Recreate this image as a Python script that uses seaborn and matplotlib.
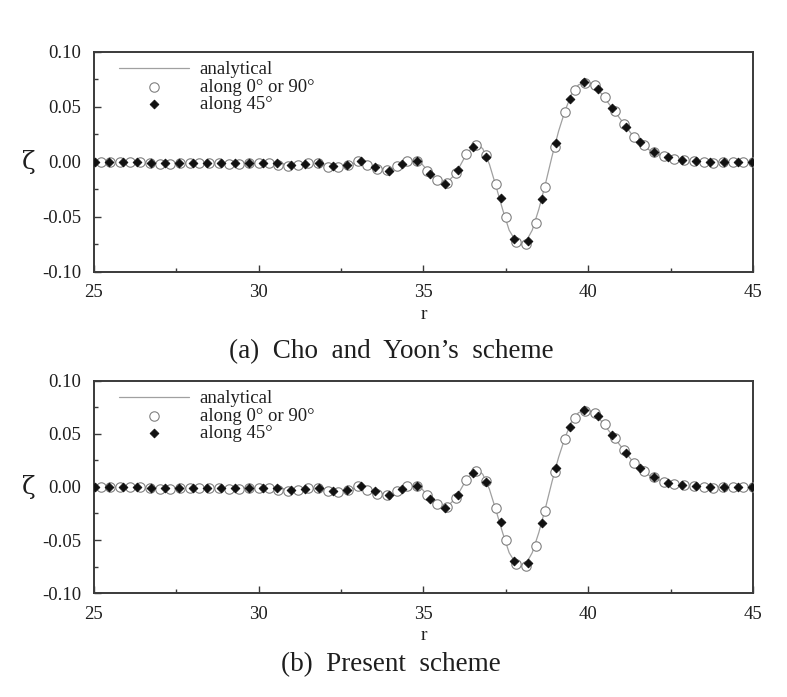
import numpy as np
import pandas as pd
import matplotlib
matplotlib.use("Agg")
import matplotlib.pyplot as plt
import seaborn as sns

# ---------------- data ----------------
r_analytical = [25.0, 26.0, 27.0, 28.0, 29.0, 30.0, 30.5, 31.0, 31.5, 32.0, 32.4, 32.8,
                33.0, 33.2, 33.5, 33.8, 34.0, 34.2, 34.5, 34.7, 34.9, 35.1, 35.3, 35.5,
                35.7, 35.9, 36.1, 36.3, 36.5, 36.65, 36.8, 37.0, 37.2, 37.4, 37.6, 37.8,
                37.95, 38.1, 38.3, 38.5, 38.7, 38.9, 39.1, 39.3, 39.5, 39.7, 39.9, 40.1,
                40.3, 40.5, 40.7, 40.9, 41.1, 41.3, 41.5, 41.7, 41.9, 42.2, 42.5, 42.8,
                43.2, 43.6, 44.0, 45.0]
z_analytical = [0.0, 0.0, -0.001, -0.001, -0.001, -0.001, -0.0015, -0.002, -0.0015, -0.003,
                -0.004, -0.002, -0.0005, -0.001, -0.004, -0.007, -0.007, -0.004, 0.0005,
                0.0015, 0.0, -0.007, -0.014, -0.018, -0.019, -0.013, -0.004, 0.007, 0.014,
                0.016, 0.012, -0.002, -0.022, -0.043, -0.062, -0.072, -0.075, -0.073,
                -0.062, -0.043, -0.020, 0.005, 0.028, 0.047, 0.062, 0.070, 0.073, 0.071,
                0.066, 0.058, 0.050, 0.042, 0.034, 0.026, 0.019, 0.014, 0.010, 0.006,
                0.003, 0.0015, 0.0005, 0.0, 0.0, 0.0]

r_axis = [25.2, 25.5, 25.8, 26.1, 26.4, 26.7, 27.0, 27.3, 27.6, 27.9, 28.2, 28.5, 28.8,
          29.1, 29.4, 29.7, 30.0, 30.3, 30.6, 30.9, 31.2, 31.5, 31.8, 32.1, 32.4, 32.7,
          33.0, 33.3, 33.6, 33.9, 34.2, 34.5, 34.8, 35.1, 35.4, 35.7, 36.0, 36.3, 36.6,
          36.9, 37.2, 37.5, 37.8, 38.1, 38.4, 38.7, 39.0, 39.3, 39.6, 39.9, 40.2, 40.5,
          40.8, 41.1, 41.4, 41.7, 42.0, 42.3, 42.6, 42.9, 43.2, 43.5, 43.8, 44.1, 44.4,
          44.7, 45.0]
z_axis = [0.0, 0.0, 0.0, 0.0, 0.0, -0.001, -0.0018, -0.0018, -0.0012, -0.0012, -0.0012,
          -0.0012, -0.0012, -0.0018, -0.0018, -0.0012, -0.0012, -0.0012, -0.003, -0.0036,
          -0.0024, -0.0012, -0.0012, -0.0042, -0.0048, -0.0024, 0.0006, -0.0024, -0.0067,
          -0.0075, -0.0036, 0.0012, 0.001, -0.0079, -0.0164, -0.019, -0.010, 0.007, 0.015,
          0.006, -0.020, -0.050, -0.0726, -0.0745, -0.0557, -0.023, 0.014, 0.0454, 0.0654,
          0.072, 0.070, 0.059, 0.0466, 0.0345, 0.023, 0.015, 0.009, 0.005, 0.003, 0.0015,
          0.001, 0.0, -0.0006, 0.0, 0.0, 0.0, 0.0]

r_diag = [25.03, 25.46, 25.88, 26.30, 26.73, 27.15, 27.58, 28.00, 28.43, 28.85, 29.27,
          29.70, 30.12, 30.55, 30.97, 31.40, 31.82, 32.24, 32.67, 33.09, 33.52, 33.94,
          34.36, 34.79, 35.21, 35.64, 36.06, 36.49, 36.91, 37.34, 37.76, 38.18, 38.61,
          39.03, 39.46, 39.88, 40.31, 40.73, 41.15, 41.58, 42.00, 42.43, 42.85, 43.27,
          43.70, 44.12, 44.55, 44.97]
z_diag = [0.0, 0.0, 0.0, 0.0, -0.0012, -0.0012, -0.0012, -0.0012, -0.0012, -0.0012,
          -0.0012, -0.0012, -0.0012, -0.0012, -0.0027, -0.0018, -0.0012, -0.0036, -0.0024,
          0.0006, -0.0042, -0.0080, -0.0018, 0.0012, -0.011, -0.020, -0.0073, 0.0133,
          0.0048, -0.033, -0.070, -0.0715, -0.034, 0.0175, 0.057, 0.0727, 0.0666, 0.049,
          0.032, 0.018, 0.009, 0.0042, 0.002, 0.001, 0.0, 0.0, 0.0, 0.0]

labels = ["analytical", "along 0° or 90°", "along 45°"]
captions = ["(a)  Cho  and  Yoon’s  scheme", "(b)  Present  scheme"]
x_ticks = [25, 30, 35, 40, 45]
y_ticks = [-0.10, -0.05, 0.00, 0.05, 0.10]

# ---------------- style ----------------
sns.set_theme(style="ticks")
plt.rcParams["font.family"] = ["Liberation Serif", "DejaVu Serif"]

fig = plt.figure(figsize=(7.87, 6.97), dpi=100)
ax_rects = [[0.1194, 0.6098, 0.8374, 0.3156], [0.1194, 0.1492, 0.8374, 0.3042]]
caption_y = [0.495, 0.046]

df_line = pd.DataFrame({"r": r_analytical, "z": z_analytical})
df_axis = pd.DataFrame({"r": r_axis, "z": z_axis})
df_diag = pd.DataFrame({"r": r_diag, "z": z_diag})

spine_col = "#3a3a3a"
txt_col = "#1e1e1e"
for i, rect in enumerate(ax_rects):
    ax = fig.add_axes(rect)
    sns.lineplot(data=df_line, x="r", y="z", ax=ax, color="#a0a0a0", lw=0.9,
                 label=labels[0], zorder=2)
    sns.scatterplot(data=df_axis, x="r", y="z", ax=ax, marker="o", s=46,
                    facecolor="white", edgecolor="#808080", linewidth=0.8,
                    label=labels[1], zorder=3)
    sns.scatterplot(data=df_diag, x="r", y="z", ax=ax, marker="D", s=20,
                    color="#111111", edgecolor="#111111", linewidth=0.6,
                    label=labels[2], zorder=4)
    ax.set_xlim(25, 45)
    ax.set_ylim(-0.10, 0.10)
    ax.set_xticks(x_ticks)
    ax.set_xticklabels([str(t) for t in x_ticks])
    ax.set_yticks(y_ticks)
    ax.set_yticklabels([f"{t:.2f}" for t in y_ticks])
    ax.set_xticks([27.5, 32.5, 37.5, 42.5], minor=True)
    ax.set_yticks([-0.075, -0.025, 0.025, 0.075], minor=True)
    ax.tick_params(which="both", direction="in", color=spine_col, width=1.0,
                   labelsize=13.5, labelcolor=txt_col)
    ax.tick_params(which="major", length=5)
    ax.tick_params(which="minor", length=3)
    ax.tick_params(axis="x", pad=9)
    ax.tick_params(axis="y", pad=9)
    for sp in ax.spines.values():
        sp.set_color(spine_col)
        sp.set_linewidth(1.4)
    ax.set_xlabel("r", fontsize=14, labelpad=3, color=txt_col)
    ax.set_ylabel("ζ", fontsize=18, rotation=0, labelpad=10, color=txt_col,
                  va="center", family="DejaVu Serif")
    leg = ax.legend(loc="upper left", frameon=False, fontsize=13.5,
                    handlelength=3.7, handletextpad=0.6, labelspacing=0.0,
                    borderaxespad=0.1, bbox_to_anchor=(0.024, 1.0))
    for t in leg.get_texts():
        t.set_color(txt_col)
    fig.text(0.497, caption_y[i], captions[i], ha="center", va="center",
             fontsize=19.5, color=txt_col)

fig.savefig("out.png", dpi=100)
